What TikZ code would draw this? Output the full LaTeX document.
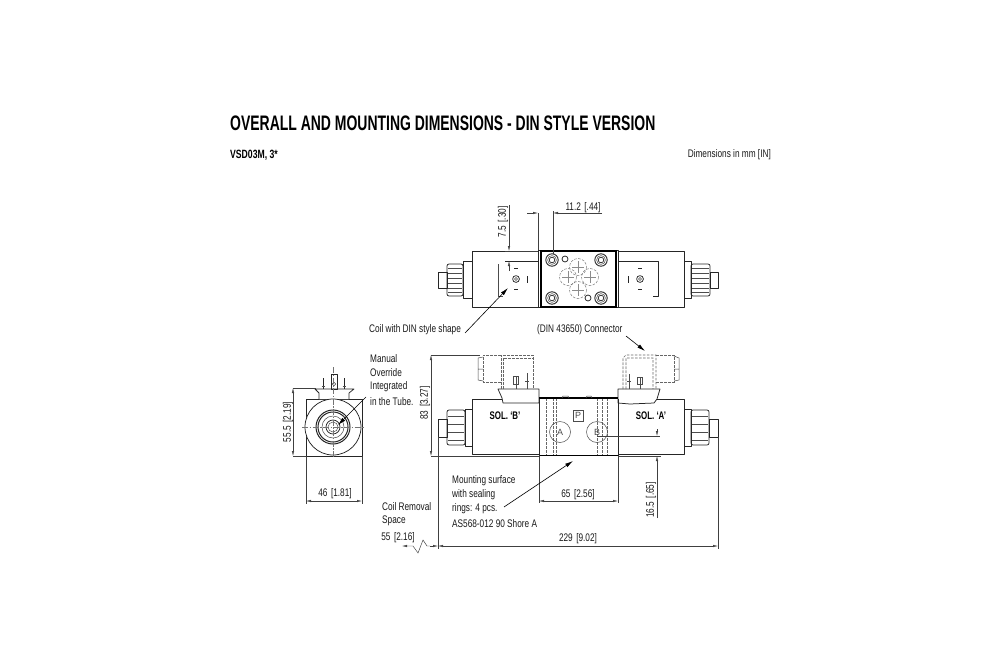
\documentclass[tikz,border=0pt]{standalone}
\usepackage{fontspec}
\setmainfont{Liberation Sans}
\newfontfamily\cond[FakeStretch=0.75]{Liberation Sans}
\newfontfamily\condb[FakeStretch=0.72]{Liberation Sans Bold}
\newfontfamily\condt[FakeStretch=0.665]{Liberation Sans Bold}
\usetikzlibrary{arrows.meta}
\tikzset{
  part/.style={draw=black!85,line width=.75pt,line join=round},
  heavy/.style={draw=black,line width=1.3pt},
  thin part/.style={draw=black!70,line width=.5pt},
  hidden/.style={draw=black!60,line width=.55pt,dash pattern=on 2.6pt off 1.4pt},
  centre/.style={draw=black!55,line width=.4pt,dash pattern=on 6pt off 1.5pt on 1.5pt off 1.5pt},
  dimline/.style={draw=black!75,line width=.45pt},
  dimarrow/.style={dimline,{Latex[length=5pt,width=2.4pt]}-{Latex[length=5pt,width=2.4pt]}},
  dimto/.style={dimline,-{Latex[length=5pt,width=2.4pt]}},
  leader/.style={draw=black,line width=.6pt,-{Latex[length=8pt,width=4pt]}},
  lab/.style={inner sep=0pt,font=\cond\fontsize{11}{13}\selectfont,text=black!90},
  labl/.style={lab,anchor=west},
  sol/.style={inner sep=0pt,font=\condb\fontsize{11}{13}\selectfont},
}
\newcommand{\screwhole}[2]{%
  \draw[part,line width=.9pt] (#1,#2) circle (6.2);
  \draw[thin part] (#1,#2) circle (4.4);
  \draw[part] (#1,#2) circle (2.8);}
\newcommand{\portc}[2]{%
  \draw[hidden,line width=.4pt] (#1,#2) circle (8.5);
  \draw[draw=black!45,line width=.25pt] (#1-6,#2)--(#1+6,#2) (#1,#2-6)--(#1,#2+6);}
\newcommand{\br}{\ \hspace{1.2pt}}
\begin{document}
\begin{tikzpicture}[x=1pt,y=-1pt]
\useasboundingbox (0,0) rectangle (1000,669);
\fill[white] (0,0) rectangle (1000,669);

% headings
\node[inner sep=0pt,anchor=west,font=\condt\fontsize{21}{24}\selectfont] (title) at (230,123) {OVERALL AND MOUNTING DIMENSIONS - DIN STYLE VERSION};
\node[inner sep=0pt,anchor=west,font=\condb\fontsize{12}{14}\selectfont] (code) at (230,155) {VSD03M, 3*};
\node[lab,anchor=east] (units) at (771,155) {Dimensions in mm [IN]};

% ===== top view =====
\draw[part] (472,251) rectangle (538,307);
\draw[part] (618,251) rectangle (684,307);
\draw[part] (463,261) rectangle (472,298);
\draw[part] (684,261) rectangle (691,298);
\draw[part,rounded corners=2pt] (447,264) rectangle (463,296);
\draw[part,rounded corners=2pt] (691,264) rectangle (710,296);
\draw[part] (438,272) rectangle (447,288);
\draw[part] (710,272) rectangle (718,288);
\foreach \yy in {268,273,278,283,288,292}{
  \draw[thin part,line width=.35pt] (448,\yy)--(462,\yy);
  \draw[thin part,line width=.35pt] (692,\yy)--(709,\yy);}
\draw[part] (538,250.5) rectangle (618,307.5);
\draw[heavy] (541,251) rectangle (616,307);
% coil faces
\draw[part] (538,261)--(505,261);
\draw[thin part] (498,264)--(498,296)--(503,296);
\draw[part] (618,261)--(658,261)--(658,296)--(653,296);
\foreach \cx/\dx/\bk in {516/527/1,640/628/-1}{
  \draw[part] (\cx,279) circle (3.4);
  \draw[thin part] (\cx,279) circle (1.5);
  \draw[part,line width=1pt] (\dx,276)--(\dx,283);
  \draw[part,line width=.8pt] (\cx-2,268)--(\cx+2,268) (\cx-2,289)--(\cx+2,289);
}
\screwhole{552}{260}\screwhole{601}{260}\screwhole{552}{298}\screwhole{601}{298}
\draw[part] (565,259) circle (3);
\draw[part] (588,298) circle (3);
\portc{578}{267}\portc{568}{277}\portc{590}{277}\portc{578}{290}

% top dims
\draw[dimline] (538,250)--(538,213) (553,254)--(553,211);
\coordinate (d11a) at (538,213); \coordinate (d11b) at (553,213);
\draw[dimto] (527,213)--(d11a);
\draw[dimto] (602,213)--(d11b);
\node[lab] (t11) at (583,207.5) {11.2\br[.44]};
\draw[dimline] (538,251)--(505,251);
\coordinate (d75a) at (509,251); \coordinate (d75b) at (509,261);
\draw[dimto] (509,205)--(d75a);
\draw[dimto] (509,271)--(d75b);
\node[lab,rotate=90] (t75) at (503,222) {7.5\br[.30]};

% ===== side view =====
\draw[part] (306,399) rectangle (362,456);
\draw[part,fill=white] (319,399)--(319,393)--(315,389)--(354,389)--(349,393)--(349,399);
\draw[part,fill=white] (333,427) circle (28);
\draw[part,line width=1pt] (333,427) circle (17);
\draw[part,line width=1pt] (333,427) circle (15);
\draw[thin part] (333,427) circle (11);
\draw[part] (333,427) circle (7);
\draw[thin part] (333,427) circle (5);
\draw[part] (323,389)--(323,378) (344,389)--(344,378);
\draw[thin part] (321.5,386)--(324.5,386) (342.5,386)--(345.5,386);
\draw[part] (331,389) rectangle (337,374);
\draw[thin part] (334,384) circle (1.8);
\draw[centre] (333,367)--(333,458) (302,427)--(365,427);

\draw[dimline] (293,388)--(316,388) (293,456)--(306,456);
\draw[dimarrow] (293,388)--(293,456);
\node[lab,rotate=90] (t55) at (288,422) {55.5\br[2.19]};
\draw[dimline] (306,457)--(306,504) (362,457)--(362,504);
\draw[dimarrow] (306,501)--(362,501);
\node[lab] (t46) at (335,494) {46\br[1.81]};

\node[labl] (mo1) at (370,359) {Manual};
\node[labl] (mo2) at (370,373) {Override};
\node[labl] (mo3) at (370,387) {Integrated};
\node[labl] (mo4) at (370,402) {in the Tube.};
\coordinate (moS) at (366,397); \coordinate (moE) at (338,425);
\draw[leader] (moS)--(moE);

% ===== front view =====
\draw[dimline] (431,355)--(480,355) (431,456)--(539,456);
\draw[dimarrow] (431,355)--(431,456);
\node[lab,rotate=90] (t83) at (425,403) {83\br[3.27]};

% solenoid B
\draw[part] (472,399) rectangle (539,454);
\draw[part] (465,409) rectangle (472,446);
\draw[part,rounded corners=2pt] (447,410) rectangle (465,445);
\draw[part] (438,419) rectangle (447,437);
\foreach \yy in {416,424,432,440}{\draw[thin part] (448,\yy)--(464,\yy);\draw[thin part] (692,\yy)--(708,\yy);}
\draw[part,fill=white] (498,389)--(539,389)--(539,403)--(503,403)--(502,398)--cycle;
\draw[hidden] (501,389)--(501,355)--(533,355)--(533,389) (503,389)--(503,358)--(533,358);
\draw[hidden] (501,355)--(483,355)--(483,382)--(501,382);
\draw[part,thin part] (483,357)--(478,358)--(478,380)--(483,381) (478,369)--(483,369);
\draw[thin part] (516,389)--(516,376) (513.5,376)--(518.5,376)--(518.5,384)--(513.5,384)--cycle;
\draw[thin part] (527,389)--(527,373) (525,381)--(529,381);

% solenoid A
\draw[part] (618,399) rectangle (684,454);
\draw[part] (684,409) rectangle (691,446);
\draw[part,rounded corners=2pt] (691,410) rectangle (709,445);
\draw[part] (709,419) rectangle (718,437);
\draw[part,fill=white] (618,403)--(618,389)--(660,389)--(657,399)--(654,403)--(630,404)--cycle;
\draw[hidden] (623,389)--(623,358)--(626,355)--(656,355)--(656,389) (626,389)--(626,358)--(653,358)--(653,389);
\draw[hidden] (656,355)--(674,355)--(674,382)--(656,382);
\draw[thin part] (674,356)--(679,358)--(679,380)--(674,381) (674,369)--(679,369);
\draw[thin part] (640,389)--(640,377) (637.5,377)--(642.5,377)--(642.5,384)--(637.5,384)--cycle;
\draw[thin part] (629,389)--(629,374) (627,381)--(631,381);

% centre block
\foreach \xx in {546,553,556,597,602,607}{\draw[hidden,line width=.4pt] (\xx,398)--(\xx,456);}
\draw[heavy] (539,398)--(618,398) (539,455.5)--(618,455.5);
\draw[part] (539,399)--(539,456) (618,399)--(618,456);
\draw[thin part] (562,398)--(563,396)--(568,396)--(569,398) (586,398)--(587,396)--(591,396)--(592,398);
\draw[thin part] (573,410) rectangle (583,421);
\node[inner sep=0pt,font=\fontsize{9}{10}\selectfont,text=black!70] (pP) at (578,415.5) {P};
\draw[thin part] (560,432) circle (10.5);
\draw[thin part] (597,432) circle (10.5);
\node[inner sep=0pt,font=\fontsize{9}{10}\selectfont,text=black!70] (pA) at (560,432) {A};
\node[inner sep=0pt,font=\fontsize{9}{10}\selectfont,text=black!70] (pB) at (597,432) {B};
\node[sol] (solB) at (505,416) {SOL. ‘B’};
\node[sol] (solA) at (651,416) {SOL. ‘A’};

% front dims
\draw[dimline] (597,436)--(660,436);
\draw[dimline] (618,456)--(661,456);
\coordinate (d16a) at (657,436); \coordinate (d16b) at (657,456);
\draw[dimto] (657,429)--(d16a);
\draw[dimto] (657,518)--(d16b);
\node[lab,rotate=90] (t16) at (651,500) {16.5\br[.65]};
\draw[dimline] (539,456)--(539,503) (618,456)--(618,503);
\draw[dimarrow] (539,501)--(618,501);
\node[lab] (t65) at (578,495) {65\br[2.56]};
\draw[dimline] (438,437)--(438,549) (718,437)--(718,549);
\draw[dimarrow] (438,546)--(718,546);
\node[lab] (t229) at (578,539) {229\br[9.02]};
\node[lab] (t55b) at (398,538) {55\br[2.16]};
\coordinate (cr) at (438,546);
\draw[dimline,{Latex[length=5pt,width=2.4pt]}-] (402,546)--(413,546)--(418,553)--(423,540)--(427,546)--(430,546);
\draw[dimto] (430,546)--(cr);

% leaders and notes
\node[labl] (cd) at (369,330) {Coil with DIN style shape};
\coordinate (cdS) at (465,333); \coordinate (cdE) at (508,288);
\draw[leader] (cdS)--(cdE);
\node[labl] (dc) at (537,330) {(DIN 43650) Connector};
\coordinate (dcS) at (626,336); \coordinate (dcE) at (645,351);
\draw[leader] (dcS)--(dcE);
\node[labl] (ms1) at (452,481) {Mounting surface};
\node[labl] (ms2) at (452,495) {with sealing};
\node[labl] (ms3) at (452,509) {rings: 4 pcs.};
\node[labl] (ms4) at (452,524) {AS568-012 90 Shore A};
\coordinate (msS) at (504,507); \coordinate (msE) at (573,461);
\draw[leader] (msS)--(msE);
\node[labl] (cr1) at (382,507) {Coil Removal};
\node[labl] (cr2) at (382,521) {Space};
\end{tikzpicture}
\end{document}
